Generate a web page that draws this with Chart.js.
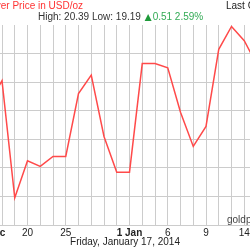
<!DOCTYPE html>
<html>
<head>
<meta charset="utf-8">
<script src="https://cdn.jsdelivr.net/npm/chart.js@4/dist/chart.umd.min.js"></script>
<style>
  html, body { margin: 0; padding: 0; background: #fff; }
  #wrap { position: relative; width: 250px; height: 250px; overflow: hidden; }
  #chart { position: absolute; left: -60px; top: 0; }
</style>
</head>
<body>
<div id="wrap"><canvas id="chart" width="380" height="250"></canvas></div>
<script>
(function () {
    'use strict';

    var FONT = "'Liberation Sans', Arial, sans-serif";
    var SHIFT = 60; // canvas is wider than the window, the chart is cropped

    // weekdays, Dec 17 2013 .. Jan 17 2014
    var dates = ['17 Dec', '18 Dec', '19 Dec', '20 Dec', '23 Dec', '24 Dec', '25 Dec', '26 Dec',
        '27 Dec', '30 Dec', '31 Dec', '1 Jan', '2 Jan', '3 Jan', '6 Jan', '7 Jan', '8 Jan',
        '9 Jan', '10 Jan', '13 Jan', '14 Jan', '15 Jan', '16 Jan', '17 Jan'];
    var tickLabels = ['17 Dec', '', '', '20', '', '', '25', '', '', '', '', '1 Jan', '', '',
        '6', '', '', '9', '', '', '14', '', '', '17'];
    var prices = [19.85, 20.01, 19.19, 19.45, 19.41, 19.48, 19.48, 19.92, 20.05, 19.62, 19.37,
        19.37, 20.13, 20.13, 20.10, 19.79, 19.55, 19.69, 20.23, 20.39, 20.29, 20.12, 19.69, 20.20];
    var yMin = 19.0, yMax = 20.4, yStep = 0.2;

    var titleText = 'Silver Price in USD/oz';
    var lastText = 'Last Close: 20.20';
    var statsText = 'High: 20.39 Low: 19.19 ';
    var changeText = '0.51 2.59%';
    var dateText = 'Friday, January 17, 2014';
    var markText = 'goldprice.org';

    var textPlugin = {
        id: 'texts',
        afterDraw: function (chart) {
            var c = chart.ctx;
            c.save();
            c.translate(SHIFT, 0);
            c.textBaseline = 'middle';
            c.font = '10px ' + FONT;

            c.fillStyle = '#ff3333';
            c.textAlign = 'right';
            c.fillText(titleText, 83, 6.5);

            c.textAlign = 'left';
            c.fillStyle = '#222';
            c.fillText(lastText, 226, 6.5);

            var x = 38;
            c.fillStyle = '#333';
            c.fillText(statsText, x, 17.5);
            x += c.measureText(statsText).width;
            c.fillStyle = '#1f9a3a';
            c.beginPath();
            c.moveTo(x + 1, 21);
            c.lineTo(x + 8, 21);
            c.lineTo(x + 4.5, 14);
            c.closePath();
            c.fill();
            c.fillStyle = '#33aa55';
            c.fillText(changeText, x + 9, 17.5);

            c.fillStyle = '#444';
            c.fillText(markText, 227, 220.5);

            c.fillStyle = '#222';
            c.textAlign = 'center';
            c.fillText(dateText, 125, 242.5);
            c.restore();
        }
    };

    new Chart(document.getElementById('chart'), {
        type: 'line',
        data: {
            labels: dates,
            datasets: [{
                data: prices,
                borderColor: '#ff4a4a',
                borderWidth: 1.5,
                pointRadius: 0,
                tension: 0,
                fill: false
            }]
        },
        options: {
            responsive: false,
            animation: false,
            events: [],
            layout: { padding: { left: SHIFT - 10.75, right: 380 - SHIFT - 282.5, top: 25, bottom: 0 } },
            plugins: { legend: { display: false }, tooltip: { enabled: false } },
            scales: {
                x: {
                    type: 'category',
                    offset: false,
                    afterFit: function (s) { s.height = 25; },
                    ticks: {
                        autoSkip: false,
                        maxRotation: 0,
                        padding: 2,
                        color: '#222',
                        callback: function (v, i) { return tickLabels[i]; },
                        font: function (ctx) {
                            var lbl = ctx.tick ? String(ctx.tick.label) : '';
                            return { family: FONT, size: 10, weight: lbl.indexOf(' ') > 0 ? 'bold' : 'normal' };
                        }
                    },
                    grid: { color: '#cccccc', drawTicks: false },
                    border: { color: '#cccccc' }
                },
                y: {
                    min: yMin,
                    max: yMax,
                    afterFit: function (s) { s.width = 0; },
                    ticks: { display: false, stepSize: yStep },
                    grid: {
                        drawTicks: false,
                        color: function (ctx) {
                            return ctx.tick && ctx.tick.value > yMax - 0.01 ? 'rgba(0,0,0,0)' : '#cccccc';
                        }
                    },
                    border: { display: false }
                }
            }
        },
        plugins: [textPlugin]
    });
})();
</script>
</body>
</html>
